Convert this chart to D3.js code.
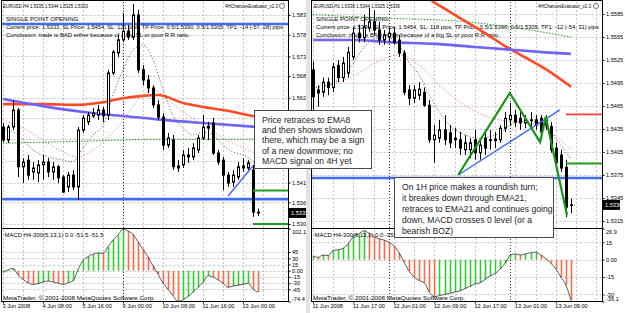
<!DOCTYPE html>
<html>
<head>
<meta charset="utf-8">
<script src="https://cdn.jsdelivr.net/npm/d3@7"></script>
<style>
  html, body { margin: 0; padding: 0; background: #fff; }
  svg { display: block; font-family: "Liberation Sans", Arial, sans-serif; }
</style>
</head>
<body>
<svg id="chart" width="625" height="313"></svg>
<script>
// ---- H4 chart (left) ----
// [open, high, low, close] per 4h bar, 3 Jun 00:00 .. 13 Jun 12:00
const h4Bars = [
  [1.5551, 1.5561, 1.5513, 1.5518], [1.5518, 1.5556, 1.5510, 1.5551], [1.5551, 1.5619, 1.5543, 1.5594],
  [1.5594, 1.5599, 1.5424, 1.5450], [1.5450, 1.5472, 1.5409, 1.5462], [1.5467, 1.5480, 1.5417, 1.5429],
  [1.5437, 1.5462, 1.5417, 1.5447], [1.5434, 1.5467, 1.5411, 1.5455], [1.5455, 1.5480, 1.5417, 1.5462],
  [1.5462, 1.5472, 1.5424, 1.5437], [1.5437, 1.5462, 1.5417, 1.5450], [1.5450, 1.5455, 1.5409, 1.5422],
  [1.5424, 1.5429, 1.5384, 1.5386], [1.5399, 1.5437, 1.5386, 1.5429], [1.5429, 1.5442, 1.5391, 1.5399],
  [1.5399, 1.5551, 1.5366, 1.5543], [1.5543, 1.5581, 1.5536, 1.5574], [1.5564, 1.5589, 1.5556, 1.5581],
  [1.5579, 1.5599, 1.5574, 1.5586], [1.5581, 1.5607, 1.5569, 1.5594], [1.5594, 1.5602, 1.5564, 1.5579],
  [1.5581, 1.5696, 1.5569, 1.5688], [1.5688, 1.5746, 1.5683, 1.5741], [1.5739, 1.5784, 1.5728, 1.5772],
  [1.5772, 1.5840, 1.5767, 1.5794], [1.5794, 1.5810, 1.5772, 1.5779], [1.5779, 1.5863, 1.5772, 1.5835],
  [1.5835, 1.5848, 1.5688, 1.5696], [1.5696, 1.5708, 1.5657, 1.5670], [1.5670, 1.5683, 1.5637, 1.5650],
  [1.5650, 1.5657, 1.5599, 1.5607], [1.5607, 1.5619, 1.5569, 1.5576], [1.5576, 1.5586, 1.5493, 1.5505],
  [1.5505, 1.5536, 1.5498, 1.5523], [1.5518, 1.5531, 1.5442, 1.5450], [1.5452, 1.5467, 1.5437, 1.5447],
  [1.5455, 1.5493, 1.5447, 1.5480], [1.5475, 1.5498, 1.5460, 1.5480], [1.5475, 1.5510, 1.5467, 1.5498],
  [1.5493, 1.5531, 1.5485, 1.5523], [1.5523, 1.5581, 1.5518, 1.5551], [1.5548, 1.5564, 1.5518, 1.5553],
  [1.5561, 1.5574, 1.5480, 1.5485], [1.5485, 1.5493, 1.5455, 1.5462], [1.5467, 1.5475, 1.5391, 1.5429],
  [1.5429, 1.5437, 1.5399, 1.5409], [1.5411, 1.5442, 1.5399, 1.5429], [1.5424, 1.5462, 1.5417, 1.5450],
  [1.5447, 1.5472, 1.5437, 1.5452], [1.5447, 1.5467, 1.5442, 1.5460], [1.5442, 1.5455, 1.5323, 1.5335],
  [1.5335, 1.5344, 1.5325, 1.5333]
];
const h4Macd = [-4, 2, 6, -10, -21, -29, -33, -31, -27, -25, -27, -30, -33, -29, -24, 2, 25, 34, 40, 43,
  42, 58, 74, 86, 100, 96, 88, 70, 52, 33, 12, -8, -30, -45, -60, -74, -70, -62, -52, -40,
  -28, -12, -15, -22, -30, -40, -37, -35, -33, -30, -45, -51.5];
const h4TimeLabels = ["3 Jun 2008", "4 Jun 08:00", "5 Jun 16:00", "9 Jun 00:00", "10 Jun 08:00", "11 Jun 16:00", "13 Jun 00:00"];
const h4PriceTicks = [1.5835, 1.5785, 1.5730, 1.5680, 1.5625, 1.5575, 1.5520, 1.5465, 1.5410, 1.5360, 1.5305];
const h4MacdTicks = [102.1, 45, 30, 15, 0, -15, -30, -45, -74.4];
// moving averages: [bar, price]
const h4MaRed = [[0, 1.5609], [8, 1.5609], [15, 1.5607], [20, 1.5614], [24, 1.5624], [28, 1.5630], [31, 1.5632],
  [36, 1.5612], [40, 1.5602], [44, 1.5594], [48, 1.5584], [51, 1.5576]];
const h4MaBlue = [[0, 1.5622], [8, 1.5604], [16, 1.5589], [24, 1.5579], [32, 1.5569], [40, 1.5561], [51, 1.5551]];
const h4MaGreen = [[0, 1.5510], [16, 1.5515], [32, 1.5520], [51, 1.5520]];
const h4Ema21 = [[0, 1.5569], [4, 1.5548], [8, 1.5518], [12, 1.5488], [15, 1.5475], [18, 1.5493], [21, 1.5523],
  [24, 1.5569], [27, 1.5619], [30, 1.5645], [33, 1.5619], [36, 1.5589], [40, 1.5556], [44, 1.5523], [48, 1.5498], [51, 1.5480]];
const h4Ema8 = [[0, 1.5548], [3, 1.5531], [6, 1.5493], [9, 1.5475], [12, 1.5467], [14, 1.5462], [16, 1.5498],
  [18, 1.5531], [20, 1.5556], [22, 1.5632], [24, 1.5696], [26, 1.5746], [28, 1.5759], [30, 1.5721], [32, 1.5645],
  [34, 1.5581], [36, 1.5548], [38, 1.5531], [40, 1.5538], [42, 1.5531], [44, 1.5505], [46, 1.5488], [48, 1.5480], [51, 1.5455]];
const h4BlueLevels = [1.5812, 1.5368];
const h4TpLevels = [1.5390, 1.5305];
const h4Trend = [[45, 1.5376], [50, 1.5452]];
const h4Separators = [24];

// ---- H1 chart (right) ----
// [open, high, low, close] per 1h bar, 11 Jun 09:00 .. 13 Jun 12:00
const h1Bars = [
  [1.5512, 1.5523, 1.5460, 1.5477], [1.5486, 1.5492, 1.5464, 1.5482], [1.5483, 1.5502, 1.5477, 1.5496],
  [1.5496, 1.5502, 1.5479, 1.5489], [1.5489, 1.5521, 1.5483, 1.5516], [1.5518, 1.5525, 1.5496, 1.5502],
  [1.5502, 1.5529, 1.5496, 1.5521], [1.5508, 1.5542, 1.5502, 1.5535], [1.5529, 1.5568, 1.5525, 1.5560],
  [1.5560, 1.5571, 1.5548, 1.5554], [1.5554, 1.5584, 1.5548, 1.5568], [1.5567, 1.5593, 1.5562, 1.5575],
  [1.5575, 1.5590, 1.5558, 1.5564], [1.5564, 1.5575, 1.5545, 1.5551], [1.5551, 1.5564, 1.5545, 1.5558],
  [1.5555, 1.5567, 1.5548, 1.5560], [1.5560, 1.5567, 1.5545, 1.5548], [1.5551, 1.5558, 1.5529, 1.5534],
  [1.5534, 1.5538, 1.5479, 1.5483], [1.5486, 1.5492, 1.5466, 1.5475], [1.5475, 1.5492, 1.5469, 1.5486],
  [1.5479, 1.5496, 1.5473, 1.5487], [1.5483, 1.5489, 1.5464, 1.5466], [1.5466, 1.5473, 1.5417, 1.5421],
  [1.5421, 1.5440, 1.5391, 1.5427], [1.5423, 1.5447, 1.5417, 1.5434], [1.5434, 1.5453, 1.5414, 1.5421],
  [1.5430, 1.5440, 1.5410, 1.5417], [1.5423, 1.5436, 1.5410, 1.5421], [1.5421, 1.5431, 1.5401, 1.5410],
  [1.5408, 1.5427, 1.5401, 1.5417], [1.5408, 1.5423, 1.5397, 1.5417], [1.5421, 1.5434, 1.5395, 1.5404],
  [1.5404, 1.5423, 1.5395, 1.5414], [1.5423, 1.5434, 1.5401, 1.5410], [1.5421, 1.5434, 1.5408, 1.5420],
  [1.5420, 1.5431, 1.5410, 1.5422], [1.5421, 1.5440, 1.5417, 1.5436], [1.5436, 1.5457, 1.5431, 1.5449],
  [1.5447, 1.5469, 1.5440, 1.5453], [1.5453, 1.5460, 1.5438, 1.5444], [1.5449, 1.5457, 1.5434, 1.5443],
  [1.5443, 1.5453, 1.5436, 1.5447], [1.5447, 1.5457, 1.5438, 1.5446], [1.5447, 1.5453, 1.5434, 1.5440],
  [1.5449, 1.5453, 1.5427, 1.5431], [1.5440, 1.5453, 1.5434, 1.5447], [1.5438, 1.5444, 1.5404, 1.5408],
  [1.5410, 1.5417, 1.5385, 1.5391], [1.5401, 1.5408, 1.5379, 1.5384], [1.5385, 1.5395, 1.5320, 1.5333],
  [1.5336, 1.5344, 1.5325, 1.5336]
];
const h1Macd = [3, 2, 4, 3.5, 8, 8.5, 10, 14, 20, 22, 25, 23, 20, 18, 17, 15, 12, 6, -2, -10,
  -15, -18, -20, -28, -32, -31, -30, -29, -28, -27, -25, -23, -21, -20, -17, -14, -12, -8, -3, 4,
  5, 4, 5, 6, 6.5, 4, 1, -3, -8, -15, -22, -35.1];
const h1TimeLabels = ["11 Jun 2008", "11 Jun 17:00", "12 Jun 01:00", "12 Jun 09:00", "12 Jun 17:00", "13 Jun 01:00", "13 Jun 09:00"];
const h1PriceTicks = [1.5585, 1.5555, 1.5525, 1.5495, 1.5465, 1.5435, 1.5405, 1.5375, 1.5345, 1.5315];
const h1MacdTicks = [26.9, 15, 0, -15, -30, -36.1];
const h1MaRed = [[16, 1.5660], [20, 1.5630], [23, 1.5605], [26, 1.5592], [30, 1.5576], [34, 1.5560], [38, 1.5543],
  [42, 1.5528], [46, 1.5513], [51, 1.5490]];
const h1MaBlue = [[0, 1.5551], [8, 1.5551], [16, 1.5548], [24, 1.5546], [32, 1.5542], [40, 1.5538], [46, 1.5535], [51, 1.5533]];
const h1MaGreen = [[0, 1.5584], [13, 1.5580], [30, 1.5575], [40, 1.5567], [51, 1.5555]];
const h1Ema21 = [[0, 1.5489], [4, 1.5494], [8, 1.5504], [12, 1.5520], [15, 1.5529], [17, 1.5532], [19, 1.5528],
  [22, 1.5512], [25, 1.5492], [28, 1.5475], [31, 1.5462], [34, 1.5452], [37, 1.5447], [40, 1.5444], [43, 1.5442],
  [46, 1.5436], [48, 1.5426], [51, 1.5408]];
const h1Ema8 = [[0, 1.5489], [3, 1.5492], [5, 1.5499], [7, 1.5512], [9, 1.5532], [11, 1.5548], [13, 1.5554],
  [15, 1.5554], [17, 1.5545], [19, 1.5522], [21, 1.5505], [23, 1.5479], [25, 1.5457], [27, 1.5440], [29, 1.5431],
  [31, 1.5425], [33, 1.5423], [35, 1.5425], [37, 1.5430], [39, 1.5440], [41, 1.5445], [43, 1.5445], [45, 1.5442],
  [47, 1.5431], [49, 1.5414], [51, 1.5395]];
const h1BlueLevels = [1.5371];
const h1TpLevels = [1.5390];
const h1SlLevels = [1.5454];
const h1Trend = [[28.7, 1.5375], [48.8, 1.5460]];
const h1Zigzag = [[28.7, 1.5375], [38.9, 1.5482], [44.9, 1.5418], [46, 1.5451], [50.2, 1.5323]];
const h1Separators = [15, 39];

// annotation boxes (pixel layout)
const notes = [
  { x: 254, y: 110, w: 117, h: 58, lh: 10.4,
    lines: ["Price retraces to EMA8", "and then shows slowdown", "there, which may be a sign", "of a new downmove; no", "MACD signal on 4H yet"] },
  { x: 394, y: 177, w: 159, h: 60, lh: 11.2,
    lines: ["On 1H price makes a roundish turn;", "it breakes down through EMA21,", "retraces to EMA21 and continues going", "down, MACD crosses 0 level (or a", "bearish BOZ)"] }
];
const underNote = (px, py) => notes.some(n => px >= n.x && px <= n.x + n.w && py >= n.y - 2 && py <= n.y + n.h + 2);

const svg = d3.select("#chart");
const defs = svg.append("defs");

function drawChart(cfg) {
  const { left, right } = cfg;
  const x = d3.scaleLinear().domain([0, 51]).range(cfg.barRange);
  const y = d3.scaleLinear().domain(cfg.priceDomain).range(cfg.priceRange);
  const ym = d3.scaleLinear().domain(cfg.macdDomain).range([301.5, 228.5]);
  const px = i => Math.round(x(i));
  const g = svg.append("g");

  defs.append("clipPath").attr("id", "clip-" + cfg.id)
    .append("rect").attr("x", left).attr("y", 1).attr("width", right - left).attr("height", 227.5);
  defs.append("clipPath").attr("id", "clipm-" + cfg.id)
    .append("rect").attr("x", left).attr("y", 228.5).attr("width", right - left).attr("height", 73);

  // grid
  const vGrid = d3.range(0, 60, 4).filter(i => x(i) < right - 2);
  g.selectAll(".vg").data(vGrid).join("line")
    .attr("x1", d => px(d) + 0.5).attr("x2", d => px(d) + 0.5)
    .attr("y1", 2).attr("y2", 301)
    .attr("stroke", "#c4c4c4").attr("stroke-dasharray", "2,2");
  g.selectAll(".hg").data(cfg.priceTicks).join("line")
    .attr("x1", left).attr("x2", right)
    .attr("y1", d => Math.round(y(d)) + 0.5).attr("y2", d => Math.round(y(d)) + 0.5)
    .attr("stroke", "#c4c4c4").attr("stroke-dasharray", "2,2");
  g.selectAll(".mg").data(cfg.macdTicks.slice(1, -1)).join("line")
    .attr("x1", left).attr("x2", right)
    .attr("y1", d => Math.round(ym(d)) + 0.5).attr("y2", d => Math.round(ym(d)) + 0.5)
    .attr("stroke", "#c4c4c4").attr("stroke-dasharray", "2,2");
  g.selectAll(".sep").data(cfg.separators).join("line")
    .attr("x1", d => px(d) + 0.5).attr("x2", d => px(d) + 0.5)
    .attr("y1", 2).attr("y2", 301)
    .attr("stroke", "#333").attr("stroke-dasharray", "1,2");

  // texts at the top of the chart
  const tx = g.append("g").attr("font-size", 5.9).attr("fill", "#000");
  cfg.texts.forEach(t => {
    tx.append("text").attr("x", t.x).attr("y", t.y).attr("textLength", t.w)
      .attr("lengthAdjust", "spacingAndGlyphs").text(t.t);
  });
  g.append("circle").attr("cx", cfg.iconX).attr("cy", 6).attr("r", 2.6)
    .attr("fill", "#f4f4f4").attr("stroke", "#666").attr("stroke-width", 0.8);

  const main = g.append("g").attr("clip-path", `url(#clip-${cfg.id})`);
  const line = d3.line().x(d => x(d[0])).y(d => y(d[1])).curve(d3.curveMonotoneX);

  // levels under the candles
  main.selectAll(".bl").data(cfg.blueLevels).join("line")
    .attr("x1", left).attr("x2", right).attr("y1", d => y(d)).attr("y2", d => y(d))
    .attr("stroke", "#3f6cf2").attr("stroke-width", 2.6);

  main.append("path").attr("d", line(cfg.maGreen)).attr("fill", "none")
    .attr("stroke", "#1f9a1f").attr("stroke-width", 1).attr("stroke-dasharray", "1.5,1.5");
  main.append("path").attr("d", line(cfg.maRed)).attr("fill", "none")
    .attr("stroke", "#ff4a2a").attr("stroke-width", 2.6);
  main.append("path").attr("d", line(cfg.maBlue)).attr("fill", "none")
    .attr("stroke", "#6f64f7").attr("stroke-width", 2.6);
  main.append("path").attr("d", line(cfg.ema21)).attr("fill", "none")
    .attr("stroke", "#ff6a6a").attr("stroke-width", 1).attr("stroke-dasharray", "1,2");
  main.append("path").attr("d", line(cfg.ema8)).attr("fill", "none")
    .attr("stroke", "#555").attr("stroke-width", 1).attr("stroke-dasharray", "1,2");

  // candles
  main.selectAll(".wick").data(cfg.bars).join("line")
    .attr("x1", (d, i) => px(i) + 0.5).attr("x2", (d, i) => px(i) + 0.5)
    .attr("y1", d => y(d[1])).attr("y2", d => y(d[2]))
    .attr("stroke", "#000").attr("stroke-width", 1);
  main.selectAll(".body").data(cfg.bars).join("rect")
    .attr("x", (d, i) => px(i) - 0.5).attr("width", 2)
    .attr("y", d => y(Math.max(d[0], d[3])))
    .attr("height", d => Math.max(0.6, Math.abs(y(d[0]) - y(d[3]))))
    .attr("fill", d => d[3] >= d[0] ? "#fff" : "#000")
    .attr("stroke", "#000").attr("stroke-width", 1);

  // drawn objects
  main.selectAll(".tp").data(cfg.tpLevels).join("line")
    .attr("x1", x(50)).attr("x2", right).attr("y1", d => y(d)).attr("y2", d => y(d))
    .attr("stroke", "#209a20").attr("stroke-width", 1.8);
  main.selectAll(".sl").data(cfg.slLevels).join("line")
    .attr("x1", x(50)).attr("x2", right).attr("y1", d => y(d)).attr("y2", d => y(d))
    .attr("stroke", "#ff3b3b").attr("stroke-width", 1.8);
  main.append("path").attr("d", d3.line().x(d => x(d[0])).y(d => y(d[1]))(cfg.trend))
    .attr("fill", "none").attr("stroke", "#3f6cf2").attr("stroke-width", 1.4);
  if (cfg.zigzag) {
    main.append("path").attr("d", d3.line().x(d => x(d[0])).y(d => y(d[1]))(cfg.zigzag))
      .attr("fill", "none").attr("stroke", "#169416").attr("stroke-width", 2.2);
  }

  // MACD pane
  const mg = g.append("g").attr("clip-path", `url(#clipm-${cfg.id})`);
  mg.selectAll(".hist").data(cfg.macd).join("line")
    .attr("x1", (d, i) => px(i) + 0.5).attr("x2", (d, i) => px(i) + 0.5)
    .attr("y1", ym(0)).attr("y2", d => ym(d))
    .attr("stroke", (d, i) => (i === 0 || d >= cfg.macd[i - 1]) ? "#33cc33" : "#ff6a4a")
    .attr("stroke-width", 1.6);
  mg.append("path")
    .attr("d", d3.line().x((d, i) => x(i)).y(d => ym(d)).curve(d3.curveMonotoneX)(cfg.macd))
    .attr("fill", "none").attr("stroke", "#333").attr("stroke-width", 0.8);
  g.append("text").attr("x", left + 3).attr("y", 237).attr("font-size", 5.9)
    .attr("textLength", 99).attr("lengthAdjust", "spacingAndGlyphs").text(cfg.macdTitle);
  g.append("text").attr("x", left + 1.5).attr("y", 299.5).attr("font-size", 5.9)
    .attr("textLength", 152).attr("lengthAdjust", "spacingAndGlyphs")
    .text("MetaTrader, \u00a9 2001-2008 MetaQuotes Software Corp.");

  // axes
  const ya = g.append("g").attr("transform", `translate(${right},0)`)
    .call(d3.axisRight(y).tickValues(cfg.priceTicks).tickSize(2).tickPadding(1.5).tickFormat(d3.format(".4f")));
  // labels that sit behind an annotation box are not visible in the screenshot
  ya.selectAll(".tick").filter(d => underNote(right + 8, y(d))).select("text").remove();
  const yma = g.append("g").attr("transform", `translate(${right},0)`)
    .call(d3.axisRight(ym).tickValues(cfg.macdTicks).tickSize(2).tickPadding(1.5)
      .tickFormat(d => d === 0 ? "0.00" : String(d)));
  yma.selectAll(".tick text").attr("dy", d => d === cfg.macdTicks[0] ? "0.9em"
    : d === cfg.macdTicks[cfg.macdTicks.length - 1] ? "-0.15em" : "0.32em");
  const xa = g.append("g").attr("transform", "translate(0,301.5)")
    .call(d3.axisBottom(x).tickValues(d3.range(0, 49, 8)).tickSize(2).tickPadding(1)
      .tickFormat((d, i) => cfg.timeLabels[i]));
  xa.selectAll(".tick text").attr("text-anchor", "start").attr("dx", -1);
  [ya, yma, xa].forEach(a => {
    a.select(".domain").remove();
    a.selectAll("text").attr("font-size", 5.6).attr("fill", "#000")
      .attr("font-family", '"Liberation Sans", Arial, sans-serif');
    a.selectAll("line").attr("stroke", "#000");
  });

  // current price marker
  const cp = cfg.bars[cfg.bars.length - 1][3];
  g.append("rect").attr("x", right + 0.5).attr("y", y(cp) - 5).attr("width", 17).attr("height", 10).attr("fill", "#000");
  g.append("text").attr("x", right + 2.5).attr("y", y(cp) + 2).attr("font-size", 5.6).attr("fill", "#fff")
    .text(cp.toFixed(4));

  // frame
  const fr = g.append("g").attr("stroke", "#000").attr("fill", "none").attr("stroke-width", 1);
  fr.append("rect").attr("x", left).attr("y", 0.5).attr("width", right - left).attr("height", 301);
  fr.append("line").attr("x1", left).attr("x2", right).attr("y1", 228.5).attr("y2", 228.5);
}

drawChart({
  id: "h4", left: 1.5, right: 288.5, barRange: [3, 258],
  priceDomain: [1.5305, 1.5835], priceRange: [224, 15], macdDomain: [-74.4, 102.1],
  bars: h4Bars, macd: h4Macd, timeLabels: h4TimeLabels, priceTicks: h4PriceTicks, macdTicks: h4MacdTicks,
  maRed: h4MaRed, maBlue: h4MaBlue, maGreen: h4MaGreen, ema21: h4Ema21, ema8: h4Ema8,
  blueLevels: h4BlueLevels, tpLevels: h4TpLevels, slLevels: [], trend: h4Trend, separators: h4Separators,
  iconX: 282,
  macdTitle: "MACD H4-300(5,13,1) 0.0 -51.5 -51.5",
  texts: [
    { t: "EURUSD,H4  1.5335 1.5344 1.5325 1.5333", x: 3, y: 8, w: 85 },
    { t: "4HChancesEvaluator_v2.3", x: 225, y: 8, w: 53 },
    { t: "SINGLE POINT OPENING:", x: 6, y: 20.5, w: 74 },
    { t: "Current price: 1.5333, SL Price: 1.5454, SL: 121 pips, TP Price: 0.5/1.5390, 0.5/1.5305, TP1: -14 (-57, 28) pips", x: 6, y: 29, w: 277 },
    { t: "Conclusion: trade is BAD either because of a big SL or poor R:R ratio.", x: 6, y: 37, w: 184 }
  ]
});

drawChart({
  id: "h1", left: 311.5, right: 602.5, barRange: [313, 571],
  priceDomain: [1.5315, 1.5585], priceRange: [221, 14], macdDomain: [-36.1, 26.9],
  bars: h1Bars, macd: h1Macd, timeLabels: h1TimeLabels, priceTicks: h1PriceTicks, macdTicks: h1MacdTicks,
  maRed: h1MaRed, maBlue: h1MaBlue, maGreen: h1MaGreen, ema21: h1Ema21, ema8: h1Ema8,
  blueLevels: h1BlueLevels, tpLevels: h1TpLevels, slLevels: h1SlLevels, trend: h1Trend, zigzag: h1Zigzag,
  separators: h1Separators, iconX: 596,
  macdTitle: "MACD H4-300(5,13,1) 0.0 -35.1 -35.1",
  texts: [
    { t: "EURUSD,H1  1.5336 1.5344 1.5325 1.5336", x: 314, y: 8, w: 86 },
    { t: "4HChancesEvaluator_v2.3", x: 538, y: 8, w: 53 },
    { t: "SINGLE POINT OPENING:", x: 316, y: 20.5, w: 74 },
    { t: "Current price: 1.5336, SL Price: 1.5454, SL: 118 pips, TP Price: 0.5/1.5390, 0.5/1.5305, TP1: -12 (-54, 31) pips", x: 316, y: 29, w: 283 },
    { t: "Conclusion: trade is BAD either because of a big SL or poor R:R ratio.", x: 316, y: 37, w: 184 }
  ]
});

// window gap between the two charts
svg.append("rect").attr("x", 306).attr("y", 0).attr("width", 4).attr("height", 313).attr("fill", "#e2e2e2");

// annotation boxes
notes.forEach(n => {
  const ng = svg.append("g");
  ng.append("rect").attr("x", n.x + 0.5).attr("y", n.y + 0.5).attr("width", n.w).attr("height", n.h)
    .attr("fill", "#fff").attr("stroke", "#4a4a4a").attr("stroke-width", 1);
  ng.selectAll("text").data(n.lines).join("text")
    .attr("x", n.x + 8).attr("y", (d, i) => n.y + 12.5 + i * n.lh)
    .attr("font-size", 8.6).attr("fill", "#222").text(d => d);
});
</script>
</body>
</html>
